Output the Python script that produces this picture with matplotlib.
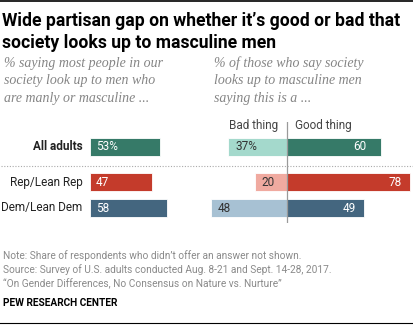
import matplotlib
matplotlib.use("Agg")
import matplotlib.pyplot as plt
from matplotlib.lines import Line2D

# ---- data ----
categories = ["All adults", "Rep/Lean Rep", "Dem/Lean Dem"]
looks_up = [53, 47, 58]
bad_thing = [37, 20, 48]
good_thing = [60, 78, 49]
dark_colors = ["#367a68", "#c43b2b", "#44667f"]
light_colors = ["#a4d9cc", "#f0aaa0", "#a7c1d3"]

W, H = 414, 325
fig = plt.figure(figsize=(W / 100, H / 100), dpi=100)

def fx(px):
    return px / W

def fy(py):
    return 1 - py / H

FONT = ["Roboto", "DejaVu Sans"]
SERIF = ["Liberation Serif", "DejaVu Serif"]

# row centers (pixels from axes top) and bar height
row_y = [25, 60, 86]
bar_h = 18
ax_top, ax_bot = 122, 223

# ---- left axes ----
left_x0, scale_l = 90, 1.324
left_max = 90
axL = fig.add_axes([fx(left_x0), fy(ax_bot), fx(left_max * scale_l), (ax_bot - ax_top) / H])
axL.set_xlim(0, left_max)
axL.set_ylim(ax_bot - ax_top, 0)
axL.axis("off")
axL.patch.set_alpha(0)
axL.barh(row_y, looks_up, height=bar_h, color=dark_colors, edgecolor="white", linewidth=0.6)
for i, v in enumerate(looks_up):
    axL.text(4.5, row_y[i], f"{v}%" if i == 0 else f"{v}", color="white",
             va="center", ha="left", fontsize=8.5, family=FONT)

# ---- right axes ----
zero_px, scale_r = 286.7, 1.575
rmin, rmax = -50, 80
axR = fig.add_axes([fx(zero_px + rmin * scale_r), fy(ax_bot),
                    fx((rmax - rmin) * scale_r), (ax_bot - ax_top) / H])
axR.set_xlim(rmin, rmax)
axR.set_ylim(ax_bot - ax_top, 0)
axR.axis("off")
axR.patch.set_alpha(0)
axR.barh(row_y, [-b for b in bad_thing], height=bar_h, color=light_colors,
         edgecolor="white", linewidth=0.6)
axR.barh(row_y, good_thing, height=bar_h, color=dark_colors,
         edgecolor="white", linewidth=0.6)
axR.axvline(0, color="#9a9a9a", linewidth=0.9, zorder=5)
for i, v in enumerate(bad_thing):
    axR.text(-v + 4.2, row_y[i], f"{v}%" if i == 0 else f"{v}", color="#333333",
             va="center", ha="left", fontsize=8.5, family=FONT)
for i, v in enumerate(good_thing):
    off = 9.7 if i == 0 else 5
    axR.text(v - off, row_y[i], f"{v}", color="white",
             va="center", ha="right", fontsize=8.5, family=FONT)

# ---- category labels ----
for i, c in enumerate(categories):
    fig.text(fx(82.7), fy(ax_top + row_y[i]), c, ha="right", va="center",
             fontsize=8.5, family=FONT, color="#222222",
             fontweight="bold" if i == 0 else "normal")

# column headers
fig.text(fx(277.7), fy(126), "Bad thing", ha="right", va="center",
         fontsize=8.5, family=FONT, color="#444444")
fig.text(fx(295), fy(126), "Good thing", ha="left", va="center",
         fontsize=8.5, family=FONT, color="#444444")

# dotted separator
fig.add_artist(Line2D([fx(1), fx(413)], [fy(165.7), fy(165.7)], transform=fig.transFigure,
                      color="#aaaaaa", linestyle=(0, (1, 1.5)), linewidth=0.8))

# ---- title ----
fig.text(fx(2), fy(21.5), "Wide partisan gap on whether it\u2019s good or bad that",
         ha="left", va="center", fontsize=12.7, fontweight="bold", family=FONT, color="black")
fig.text(fx(2), fy(42.7), "society looks up to masculine men",
         ha="left", va="center", fontsize=12.7, fontweight="bold", family=FONT, color="black")

# subtitles
sub_left = ["% saying most people in our", "society look up to men who",
            "are manly or masculine ..."]
sub_right = ["% of those who say society", "looks up to masculine men",
             "saying this is a ..."]
for j, (a, b) in enumerate(zip(sub_left, sub_right)):
    y = 63 + j * 17.8
    fig.text(fx(4.3), fy(y), a, ha="left", va="center", fontsize=10, style="italic",
             family=SERIF, color="#858585")
    fig.text(fx(214.3), fy(y), b, ha="left", va="center", fontsize=10, style="italic",
             family=SERIF, color="#858585")

# notes
notes = ["Note: Share of respondents who didn\u2019t offer an answer not shown.",
         "Source: Survey of U.S. adults conducted Aug. 8-21 and Sept. 14-28, 2017.",
         "\u201cOn Gender Differences, No Consensus on Nature vs. Nurture\u201d"]
for j, n in enumerate(notes):
    fig.text(fx(3), fy(256 + j * 13.7), n, ha="left", va="center", fontsize=7.3,
             family=FONT, color="#8a8a8a")
fig.text(fx(3), fy(303.3), "PEW RESEARCH CENTER", ha="left", va="center", fontsize=7.3,
         fontweight="bold", family=FONT, color="black")

# top and bottom rules
fig.add_artist(Line2D([0, 1], [fy(0.8), fy(0.8)], transform=fig.transFigure,
                      color="black", linewidth=1.2))
fig.add_artist(Line2D([0, 1], [fy(322.7), fy(322.7)], transform=fig.transFigure,
                      color="black", linewidth=0.8))

fig.savefig("out.png", dpi=100)
